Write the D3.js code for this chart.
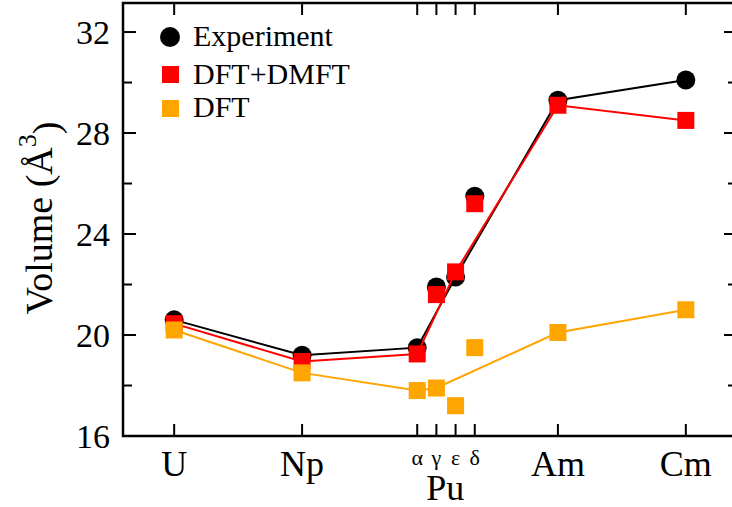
<!DOCTYPE html>
<html>
<head>
<meta charset="utf-8">
<script src="https://cdn.jsdelivr.net/npm/d3@7"></script>
<style>
    body { margin: 0; background: #fff; }
</style>
</head>
<body>
<div id="chart"></div>
<script>
// positions of the elements on the x axis (Pu phases squeezed round 2)
var labels = ["U", "Np", "α", "γ", "ε", "δ", "Am", "Cm"],
    xPos = [0, 1, 1.9, 2.05, 2.2, 2.35, 3, 4];

// volumes in Å^3
var experiment = [20.6, 19.2, 19.5, 21.9, 22.3, 25.5, 29.3, 30.1],
    dmft = [20.45, 18.95, 19.25, 21.6, 22.5, 25.2, 29.1, 28.5],
    dft = [20.2, 18.5, 17.8, 17.9, 17.2, 19.5, 20.1, 21.0];

// which points the lines go through
var expLine = ["U", "Np", "α", "ε", "Am", "Cm"],
    dmftLine = ["U", "Np", "α", "ε", "Am", "Cm"],
    dftLine = ["U", "Np", "α", "γ", "Am", "Cm"];

var yTicks = [16, 20, 24, 28, 32],
    yMinor = [18, 22, 26, 30];

var W = 732, H = 507;
var pLeft = 123, pRight = 737, pTop = 3, pBottom = 436;
var serif = "'Liberation Serif', 'Times New Roman', Times, serif";

var x = d3.scaleLinear().domain([-0.4, 4.4]).range([pLeft, pRight]);
var y = d3.scaleLinear().domain([16, 33.15]).range([pBottom, pTop]);

var svg = d3.select("#chart").append("svg")
    .attr("width", W)
    .attr("height", H)
    .attr("font-family", serif);

function series(vals, names) {
    return labels.map(function (l, i) {
        return {label: l, x: xPos[i], y: vals[i]};
    }).filter(function (d) {
        return !names || names.indexOf(d.label) >= 0;
    });
}

var line = d3.line()
    .x(function (d) { return x(d.x); })
    .y(function (d) { return y(d.y); });

// frame
var frame = svg.append("g").attr("class", "frame");
frame.append("rect")
    .attr("x", pLeft).attr("y", pTop)
    .attr("width", pRight - pLeft).attr("height", pBottom - pTop)
    .attr("fill", "none").attr("stroke", "#000").attr("stroke-width", 2.5);

// y axis ticks, left and right, pointing in
yTicks.forEach(function (t) {
    frame.append("line").attr("x1", pLeft).attr("x2", pLeft + 13)
        .attr("y1", y(t)).attr("y2", y(t)).attr("stroke", "#000").attr("stroke-width", 2);
    frame.append("line").attr("x1", pRight).attr("x2", pRight - 13)
        .attr("y1", y(t)).attr("y2", y(t)).attr("stroke", "#000").attr("stroke-width", 2);
});
yMinor.forEach(function (t) {
    frame.append("line").attr("x1", pLeft).attr("x2", pLeft + 9)
        .attr("y1", y(t)).attr("y2", y(t)).attr("stroke", "#000").attr("stroke-width", 2);
    frame.append("line").attr("x1", pRight).attr("x2", pRight - 9)
        .attr("y1", y(t)).attr("y2", y(t)).attr("stroke", "#000").attr("stroke-width", 2);
});

svg.append("g").selectAll("text")
    .data(yTicks)
    .enter().append("text")
    .attr("x", 110)
    .attr("y", function (d) { return y(d); })
    .attr("dy", "0.34em")
    .attr("text-anchor", "end")
    .style("font-family", serif)
    .style("font-size", "34px")
    .text(function (d) { return d; });

// x ticks, bottom and top
xPos.forEach(function (p) {
    frame.append("line").attr("x1", x(p)).attr("x2", x(p))
        .attr("y1", pBottom).attr("y2", pBottom - 12).attr("stroke", "#000").attr("stroke-width", 2);
    frame.append("line").attr("x1", x(p)).attr("x2", x(p))
        .attr("y1", pTop).attr("y2", pTop + 12).attr("stroke", "#000").attr("stroke-width", 2);
});

// element labels
var main = ["U", "Np", "Am", "Cm"];
svg.append("g").selectAll("text")
    .data(labels.map(function (l, i) { return {label: l, x: xPos[i]}; }))
    .enter().append("text")
    .attr("x", function (d) { return x(d.x); })
    .attr("y", function (d) { return main.indexOf(d.label) >= 0 ? 476 : 465; })
    .attr("text-anchor", "middle")
    .style("font-family", serif)
    .style("font-size", function (d) { return main.indexOf(d.label) >= 0 ? "36px" : "22px"; })
    .text(function (d) { return d.label; });

svg.append("text")
    .attr("x", x(2.12))
    .attr("y", 500)
    .attr("text-anchor", "middle")
    .style("font-family", serif)
    .style("font-size", "36px")
    .text("Pu");

// y label
var ylab = svg.append("text")
    .attr("transform", "translate(52," + 218 + ") rotate(-90)")
    .attr("text-anchor", "middle")
    .style("font-family", serif)
    .style("font-size", "38px");
ylab.append("tspan").text("Volume (Å");
ylab.append("tspan").attr("dy", "-0.6em").style("font-size", "26px").text("3");
ylab.append("tspan").attr("dy", "0.6em").text(")");

// experiment
var plot = svg.append("g");
plot.append("path")
    .attr("d", line(series(experiment, expLine)))
    .attr("fill", "none").attr("stroke", "#000").attr("stroke-width", 2);
plot.selectAll(".exp")
    .data(series(experiment))
    .enter().append("circle")
    .attr("class", "exp")
    .attr("cx", function (d) { return x(d.x); })
    .attr("cy", function (d) { return y(d.y); })
    .attr("r", 9.5)
    .attr("fill", "#000");

// DFT+DMFT
plot.append("path")
    .attr("d", line(series(dmft, dmftLine)))
    .attr("fill", "none").attr("stroke", "#ff0000").attr("stroke-width", 2);
plot.selectAll(".dmft")
    .data(series(dmft))
    .enter().append("rect")
    .attr("class", "dmft")
    .attr("x", function (d) { return x(d.x) - 8.5; })
    .attr("y", function (d) { return y(d.y) - 8.5; })
    .attr("width", 17).attr("height", 17)
    .attr("fill", "#ff0000");

// DFT
plot.append("path")
    .attr("d", line(series(dft, dftLine)))
    .attr("fill", "none").attr("stroke", "#ffa500").attr("stroke-width", 2);
plot.selectAll(".dft")
    .data(series(dft))
    .enter().append("rect")
    .attr("class", "dft")
    .attr("x", function (d) { return x(d.x) - 8.5; })
    .attr("y", function (d) { return y(d.y) - 8.5; })
    .attr("width", 17).attr("height", 17)
    .attr("fill", "#ffa500");

// legend
var legend = svg.append("g");
legend.append("circle").attr("cx", 170).attr("cy", 37).attr("r", 10).attr("fill", "#000");
legend.append("rect").attr("x", 162).attr("y", 66).attr("width", 17).attr("height", 17).attr("fill", "#ff0000");
legend.append("rect").attr("x", 162).attr("y", 100).attr("width", 17).attr("height", 17).attr("fill", "#ffa500");
[["Experiment", 46], ["DFT+DMFT", 84], ["DFT", 117]].forEach(function (l) {
    legend.append("text")
        .attr("x", 193).attr("y", l[1])
        .style("font-family", serif)
        .style("font-size", "30px")
        .text(l[0]);
});
</script>
</body>
</html>
